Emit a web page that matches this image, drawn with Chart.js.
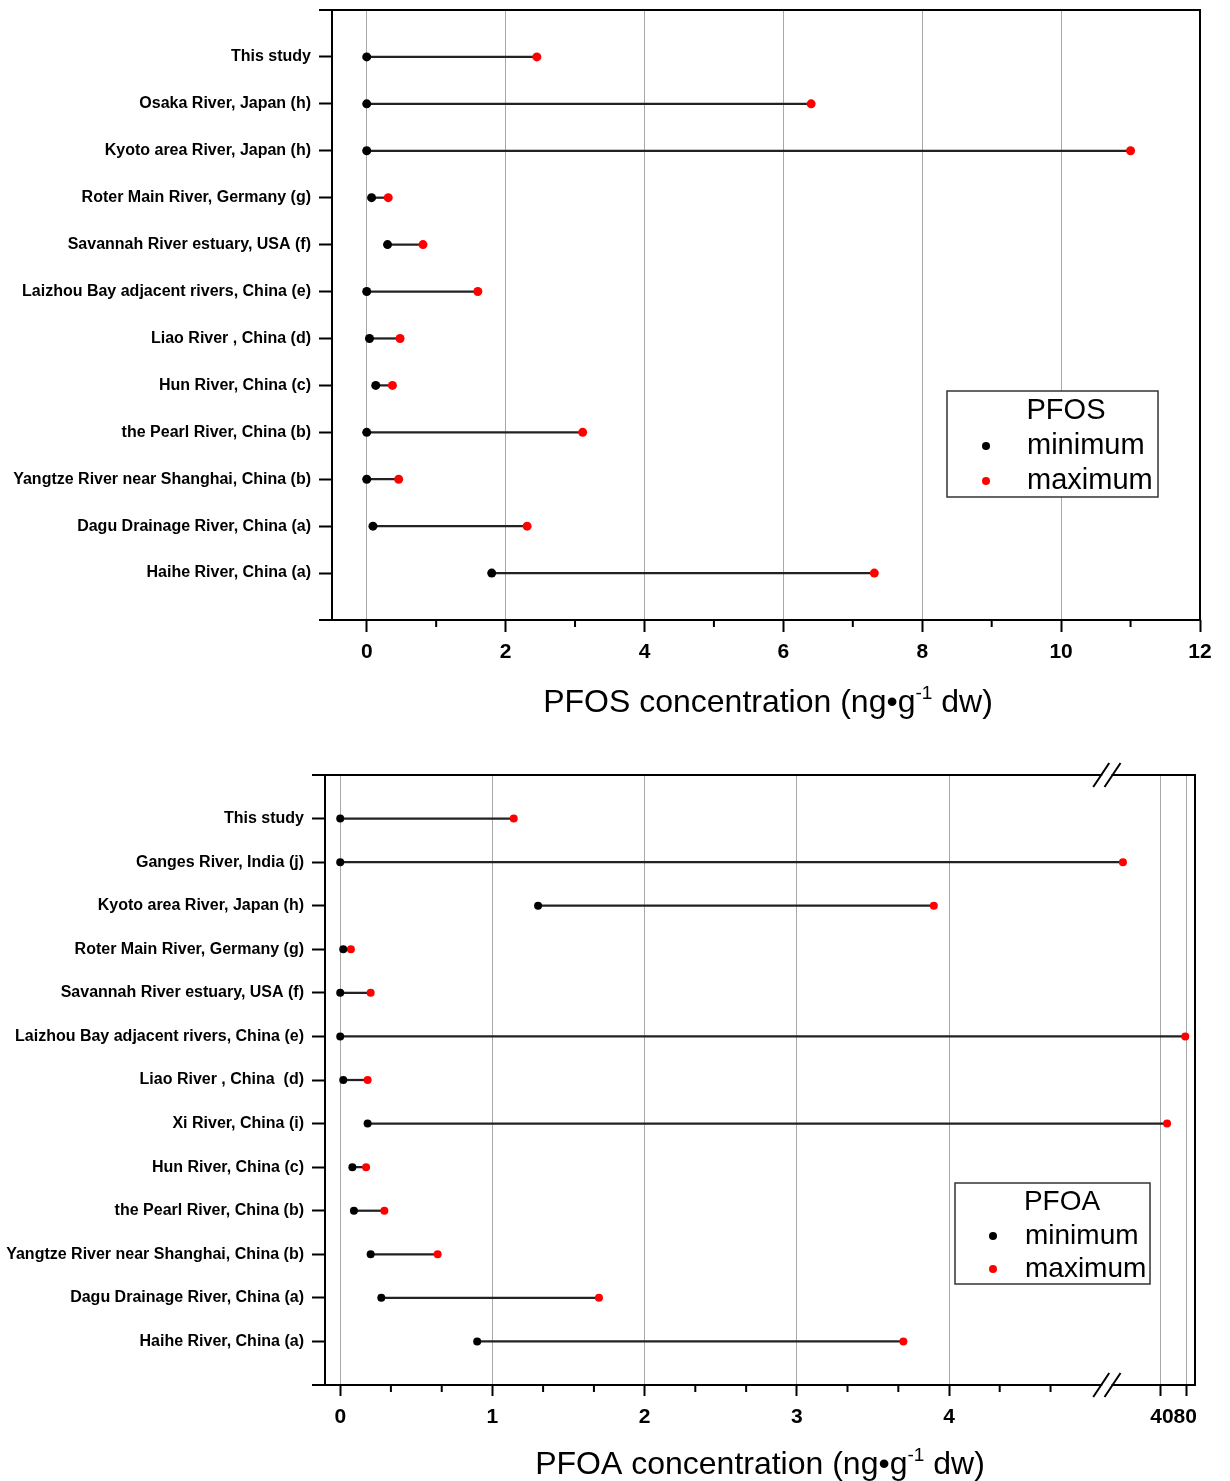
<!DOCTYPE html>
<html>
<head>
<meta charset="utf-8">
<script src="https://cdn.jsdelivr.net/npm/chart.js@4.4.1/dist/chart.umd.min.js"></script>
<style>
  html, body { margin: 0; padding: 0; background: #fff; }
  #wrap { position: relative; width: 1230px; height: 1481px; }
  canvas { position: absolute; left: 0; }
  #pfosChart { top: 0; }
  #pfoaChart { top: 740px; }
</style>
</head>
<body>
<div id="wrap">
  <canvas id="pfosChart" width="1230" height="740"></canvas>
  <canvas id="pfoaChart" width="1230" height="741"></canvas>
</div>
<script>
// PFOS (upper panel)
const pfosSites = [
  "This study",
  "Osaka River, Japan (h)",
  "Kyoto area River, Japan (h)",
  "Roter Main River, Germany (g)",
  "Savannah River estuary, USA (f)",
  "Laizhou Bay adjacent rivers, China (e)",
  "Liao River , China (d)",
  "Hun River, China (c)",
  "the Pearl River, China (b)",
  "Yangtze River near Shanghai, China (b)",
  "Dagu Drainage River, China (a)",
  "Haihe River, China (a)",
];
const pfosMin = [0, 0, 0, 0.07, 0.3, 0, 0.04, 0.13, 0, 0, 0.09, 1.8];
const pfosMax = [2.45, 6.4, 11.0, 0.31, 0.81, 1.6, 0.48, 0.37, 3.11, 0.46, 2.31, 7.31];
const pfosTickValues = [0, 2, 4, 6, 8, 10, 12];
const pfosMinorTicks = [1, 3, 5, 7, 9, 11];

// PFOA (lower panel, broken axis)
const pfoaSites = [
  "This study",
  "Ganges River, India (j)",
  "Kyoto area River, Japan (h)",
  "Roter Main River, Germany (g)",
  "Savannah River estuary, USA (f)",
  "Laizhou Bay adjacent rivers, China (e)",
  "Liao River , China  (d)",
  "Xi River, China (i)",
  "Hun River, China (c)",
  "the Pearl River, China (b)",
  "Yangtze River near Shanghai, China (b)",
  "Dagu Drainage River, China (a)",
  "Haihe River, China (a)",
];
const pfoaMin = [0, 0, 1.3, 0.02, 0, 0, 0.02, 0.18, 0.08, 0.09, 0.2, 0.27, 0.9];
const pfoaMax = [1.14, 4041, 3.9, 0.07, 0.2, 4089, 0.18, 4075, 0.17, 0.29, 0.64, 1.7, 3.7];
const pfoaTickValues = [0, 1, 2, 3, 4, 4070, 4080, 4090];
const pfoaTickLabels = ["0", "1", "2", "3", "4", "", "4080", ""];
const pfoaLabelOnlyTicks = [4080];
const pfoaMinorTicks = [0.333, 0.667, 1.333, 1.667, 2.333, 2.667, 3.333, 3.667, 4.333, 4.667];
const pfoaSegments = [
  { min: -0.1, max: 5.0, start: 0, end: 0.8922 },
  { min: 4033, max: 4096.5, start: 0.9052, end: 1 },
];

const FONT = "'Liberation Sans', Arial, sans-serif";
Chart.defaults.font.family = FONT;
Chart.defaults.color = "#000";

// linear scale with one gap in it
class BrokenLinearScale extends Chart.LinearScale {
  getPixelForValue(value) {
    if (value === null || value === undefined || isNaN(value)) return NaN;
    const segs = this.options.segments;
    const seg = value <= segs[0].max ? segs[0] : segs[1];
    const t = (value - seg.min) / (seg.max - seg.min);
    return this.getPixelForDecimal(seg.start + t * (seg.end - seg.start));
  }
  getValueForPixel(pixel) {
    const d = this.getDecimalForPixel(pixel);
    const segs = this.options.segments;
    const seg = d <= segs[0].end ? segs[0] : segs[1];
    return seg.min + ((d - seg.start) / (seg.end - seg.start)) * (seg.max - seg.min);
  }
}
BrokenLinearScale.id = "brokenLinear";
BrokenLinearScale.defaults = Chart.LinearScale.defaults;
Chart.register(BrokenLinearScale);

function pad(arr) {
  return [null, ...arr, null];
}

function drawAxisTitle(ctx, t) {
  const bigFont = `${t.size}px ${FONT}`;
  const supFont = `${Math.round(t.size * 0.6)}px ${FONT}`;
  ctx.font = bigFont;
  const w1 = ctx.measureText(t.main).width;
  const w3 = ctx.measureText(t.tail).width;
  ctx.font = supFont;
  const w2 = ctx.measureText(t.sup).width;
  let x = t.x - (w1 + w2 + w3) / 2;
  ctx.fillStyle = "#000";
  ctx.textAlign = "left";
  ctx.textBaseline = "alphabetic";
  ctx.font = bigFont;
  ctx.fillText(t.main, x, t.y);
  x += w1;
  ctx.font = supFont;
  ctx.fillText(t.sup, x, t.y - t.size * 0.42);
  x += w2;
  ctx.font = bigFont;
  ctx.fillText(t.tail, x, t.y);
}

function drawLegend(ctx, lg) {
  const [x1, y1, x2, y2] = lg.box;
  ctx.fillStyle = "#fff";
  ctx.fillRect(x1, y1, x2 - x1, y2 - y1);
  ctx.strokeStyle = "#333";
  ctx.lineWidth = 1.5;
  ctx.strokeRect(x1, y1, x2 - x1, y2 - y1);
  ctx.font = `${lg.size}px ${FONT}`;
  ctx.textBaseline = "middle";
  ctx.textAlign = "center";
  ctx.fillStyle = "#000";
  ctx.fillText(lg.title, lg.titleX, lg.titleY);
  ctx.textAlign = "left";
  lg.rows.forEach((row) => {
    ctx.beginPath();
    ctx.fillStyle = row.color;
    ctx.arc(lg.dotX, row.y, 4, 0, Math.PI * 2);
    ctx.fill();
    ctx.fillStyle = "#000";
    ctx.fillText(row.label, lg.textX, row.y);
  });
}

function drawBreak(ctx, chart, area) {
  const xs = chart.scales.x;
  const segs = xs.options.segments;
  const p1 = xs.getPixelForValue(segs[0].max);
  const p2 = xs.getPixelForValue(segs[1].min);
  ctx.strokeStyle = "#000";
  ctx.lineWidth = 2;
  [area.top, area.bottom].forEach((y) => {
    ctx.fillStyle = "#fff";
    ctx.fillRect(p1 + 1, y - 2, p2 - p1 - 2, 4);
    ctx.beginPath();
    [p1, p2].forEach((p) => {
      ctx.moveTo(p - 8, y + 12);
      ctx.lineTo(p + 8, y - 12);
    });
    ctx.stroke();
  });
}

const framePlugin = {
  id: "frame",
  afterDraw(chart, args, opts) {
    const { ctx, chartArea: area } = chart;
    const xs = chart.scales.x;
    ctx.save();
    ctx.strokeStyle = "#000";
    ctx.lineWidth = 2;
    ctx.beginPath();
    ctx.moveTo(area.left - opts.overhang, area.top);
    ctx.lineTo(area.right, area.top);
    ctx.lineTo(area.right, area.bottom);
    ctx.lineTo(area.left - opts.overhang, area.bottom);
    ctx.moveTo(area.left, area.top);
    ctx.lineTo(area.left, area.bottom);
    opts.minorTicks.forEach((v) => {
      const px = xs.getPixelForValue(v);
      ctx.moveTo(px, area.bottom);
      ctx.lineTo(px, area.bottom + opts.minorLength);
    });
    ctx.stroke();
    if (opts.axisBreak) drawBreak(ctx, chart, area);
    drawAxisTitle(ctx, opts.title);
    drawLegend(ctx, opts.legend);
    ctx.restore();
  },
};

function rangeDatasets(mins, maxs, radius) {
  return [
    {
      type: "line",
      label: "minimum",
      indexAxis: "y",
      data: pad(mins),
      showLine: false,
      pointRadius: radius,
      pointBackgroundColor: "#000",
      pointBorderWidth: 0,
      order: 1,
    },
    {
      type: "line",
      label: "maximum",
      indexAxis: "y",
      data: pad(maxs),
      showLine: false,
      pointRadius: radius,
      pointBackgroundColor: "#ff0000",
      pointBorderWidth: 0,
      order: 2,
    },
    {
      type: "bar",
      label: "range",
      data: pad(mins.map((v, i) => [v, maxs[i]])),
      backgroundColor: "#222",
      borderWidth: 0,
      barThickness: 1.6,
      order: 3,
    },
  ];
}

function categoryAxis(sites, width) {
  return {
    type: "category",
    labels: pad(sites),
    offset: false,
    position: "left",
    grid: {
      offset: false,
      drawOnChartArea: false,
      tickLength: 13,
      tickWidth: 2,
      tickColor: (c) => (c.tick && c.tick.label !== "" ? "#000" : "transparent"),
    },
    border: { display: false },
    ticks: {
      autoSkip: false,
      padding: 8,
      color: "#000",
      font: { family: FONT, weight: "bold", size: 16 },
    },
    afterFit: (scale) => {
      scale.width = width;
      scale.paddingTop = 0;
      scale.paddingBottom = 0;
    },
  };
}

function fixHeight(height) {
  return (scale) => {
    scale.height = height;
    scale.paddingLeft = 0;
    scale.paddingRight = 0;
  };
}

new Chart(document.getElementById("pfosChart"), {
  type: "bar",
  data: { labels: pad(pfosSites), datasets: rangeDatasets(pfosMin, pfosMax, 4.5) },
  options: {
    indexAxis: "y",
    responsive: false,
    animation: false,
    events: [],
    layout: { padding: { top: 10, right: 30, bottom: 60, left: 0 } },
    scales: {
      y: categoryAxis(pfosSites, 332),
      x: {
        type: "linear",
        min: -0.5,
        max: 12,
        afterBuildTicks: (scale) => {
          scale.ticks = pfosTickValues.map((v) => ({ value: v }));
        },
        grid: { color: "#a8a8a8", lineWidth: 1, tickColor: "#000", tickLength: 12, tickWidth: 2 },
        border: { display: false },
        ticks: {
          autoSkip: false,
          maxRotation: 0,
          padding: 8,
          color: "#000",
          font: { family: FONT, weight: "bold", size: 21 },
          callback: (v) => String(v),
        },
        afterFit: fixHeight(60),
      },
    },
    plugins: {
      legend: { display: false },
      tooltip: { enabled: false },
      frame: {
        overhang: 13,
        minorTicks: pfosMinorTicks,
        minorLength: 7,
        axisBreak: false,
        title: { main: "PFOS concentration (ng\u2022g", sup: "-1", tail: " dw)", x: 768, y: 712, size: 32 },
        legend: {
          title: "PFOS",
          box: [947, 391, 1158, 497],
          size: 29,
          titleX: 1066,
          titleY: 411,
          dotX: 986,
          textX: 1027,
          rows: [
            { label: "minimum", color: "#000", y: 446 },
            { label: "maximum", color: "#ff0000", y: 481 },
          ],
        },
      },
    },
  },
  plugins: [framePlugin],
});

new Chart(document.getElementById("pfoaChart"), {
  type: "bar",
  data: { labels: pad(pfoaSites), datasets: rangeDatasets(pfoaMin, pfoaMax, 4) },
  options: {
    indexAxis: "y",
    responsive: false,
    animation: false,
    events: [],
    layout: { padding: { top: 35, right: 35, bottom: 46, left: 0 } },
    scales: {
      y: categoryAxis(pfoaSites, 325),
      x: {
        type: "brokenLinear",
        min: -0.1,
        max: 4096.5,
        segments: pfoaSegments,
        afterBuildTicks: (scale) => {
          scale.ticks = pfoaTickValues.map((v) => ({ value: v }));
        },
        grid: {
          color: (c) => (c.tick && pfoaLabelOnlyTicks.includes(c.tick.value) ? "transparent" : "#a8a8a8"),
          lineWidth: 1,
          tickColor: (c) => (c.tick && pfoaLabelOnlyTicks.includes(c.tick.value) ? "transparent" : "#000"),
          tickLength: 11,
          tickWidth: 2,
        },
        border: { display: false },
        ticks: {
          autoSkip: false,
          maxRotation: 0,
          padding: 9,
          color: "#000",
          font: { family: FONT, weight: "bold", size: 21 },
          callback: (v, i) => pfoaTickLabels[i],
        },
        afterFit: fixHeight(50),
      },
    },
    plugins: {
      legend: { display: false },
      tooltip: { enabled: false },
      frame: {
        overhang: 13,
        minorTicks: pfoaMinorTicks,
        minorLength: 7,
        axisBreak: true,
        title: { main: "PFOA concentration (ng\u2022g", sup: "-1", tail: " dw)", x: 760, y: 734, size: 32 },
        legend: {
          title: "PFOA",
          box: [955, 443, 1150, 544],
          size: 28,
          titleX: 1062,
          titleY: 462,
          dotX: 993,
          textX: 1025,
          rows: [
            { label: "minimum", color: "#000", y: 496 },
            { label: "maximum", color: "#ff0000", y: 529 },
          ],
        },
      },
    },
  },
  plugins: [framePlugin],
});
</script>
</body>
</html>
